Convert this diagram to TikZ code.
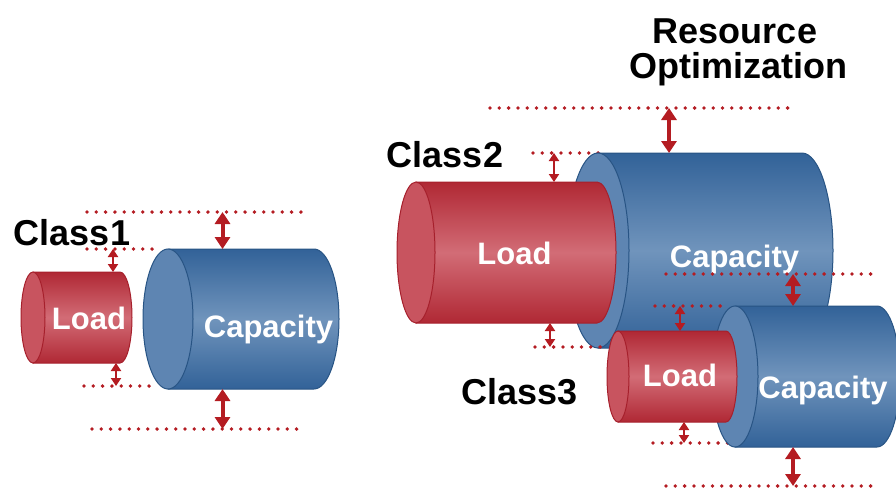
\documentclass[tikz,border=0pt]{standalone}
\usepackage{fontspec}
\setmainfont{Liberation Sans}
\usetikzlibrary{arrows.meta}

\definecolor{loadTop}{RGB}{176,40,52}
\definecolor{loadMid}{RGB}{210,108,118}
\definecolor{loadFace}{RGB}{200,84,95}
\definecolor{loadEdge}{RGB}{166,32,44}
\definecolor{capTop}{RGB}{50,98,152}
\definecolor{capMid}{RGB}{112,148,188}
\definecolor{capFace}{RGB}{94,133,178}
\definecolor{capEdge}{RGB}{40,84,132}
\definecolor{markRed}{RGB}{180,28,34}

% horizontal cylinder: #1 left-end centre x, #2 right-end centre x,
% #3 axis y, #4 end x radius, #5 end y radius, #6 colour set (load/cap)
\newcommand\hcylinder[6]{%
  \path[#6body] (#1,#3-#5) -- (#2,#3-#5)
    arc[start angle=-90,end angle=90,x radius=#4,y radius=#5]
    -- (#1,#3+#5) -- cycle;
  \path[#6face] (#1,#3) ellipse[x radius=#4,y radius=#5];
}

\tikzset{
  loadbody/.style={draw=loadEdge,line width=1pt,top color=loadTop,bottom color=loadTop,middle color=loadMid},
  loadface/.style={draw=loadEdge,line width=1pt,fill=loadFace},
  capbody/.style={draw=capEdge,line width=1pt,top color=capTop,bottom color=capTop,middle color=capMid},
  capface/.style={draw=capEdge,line width=1pt,fill=capFace},
  dotline/.style={draw=markRed,line width=3.8pt,line cap=round,dash pattern=on 0pt off 9.3pt},
  bigarrow/.style={draw=markRed,line width=4pt,
    arrows={Triangle[width=15pt,length=12pt]-Triangle[width=15pt,length=12pt]}},
  smallarrow/.style={draw=markRed,line width=2.8pt,
    arrows={Triangle[width=10pt,length=8pt]-Triangle[width=10pt,length=8pt]}},
  inlabel/.style={text=white,font=\fontsize{31}{31}\selectfont\bfseries,inner sep=0pt,anchor=base},
  classlabel/.style={text=black,font=\fontsize{36}{36}\selectfont\bfseries,inner sep=0pt,anchor=base},
}

\begin{document}
\begin{tikzpicture}[x=1pt,y=-1pt]
\useasboundingbox (0,0) rectangle (896,488);

% ---------- Class 1 ----------
\draw[dotline] (87,212) -- (305,212);
\draw[dotline] (87,249) -- (160,249);
\draw[dotline] (84,386) -- (158,386);
\draw[dotline] (92,429) -- (303,429);
\hcylinder{168}{314}{319}{25}{70}{cap}
\hcylinder{33}{120}{317.5}{12}{45.5}{load}
\node[inlabel] (load1) at (89,329) {Load};
\node[inlabel] (cap1) at (268.5,337) {Capacity};
\node[classlabel] (class1) at (72,245) {Class1};

\coordinate (c1top) at (222.5,212);
\coordinate (c1capt) at (222.5,249);
\coordinate (c1capb) at (222.5,389);
\coordinate (c1bot) at (222.5,429);
\coordinate (l1t) at (113,249);
\coordinate (l1tt) at (113,272);
\coordinate (l1b) at (116,363);
\coordinate (l1bb) at (116,386);
\draw[bigarrow] (c1top) -- (c1capt);
\draw[bigarrow] (c1capb) -- (c1bot);
\draw[smallarrow] (l1t) -- (l1tt);
\draw[smallarrow] (l1b) -- (l1bb);

% ---------- Class 2 ----------
\draw[dotline] (490,108) -- (788,108);
\draw[dotline] (533,153) -- (600,153);
\hcylinder{598}{802}{250.5}{31}{97.5}{cap}
\draw[dotline] (535,347) -- (605,347);
\hcylinder{416}{597}{252.5}{19}{70.5}{load}
\node[inlabel] (load2) at (514.5,264) {Load};
\node[inlabel] (cap2) at (734.5,267) {Capacity};
\node[classlabel] (class2) at (445,167) {Class2};
\draw[dotline] (666,274) -- (877,274);

\coordinate (c2top) at (669,108);
\coordinate (c2capt) at (669,153);
\coordinate (l2t) at (554,153);
\coordinate (l2tt) at (554,182);
\coordinate (l2b) at (550,323);
\coordinate (l2bb) at (550,347);
\draw[bigarrow] (c2top) -- (c2capt);
\draw[smallarrow] (l2t) -- (l2tt);
\draw[smallarrow] (l2b) -- (l2bb);

% ---------- Class 3 ----------
\draw[dotline] (655,306) -- (728,306);
\draw[dotline] (653,443) -- (728,443);
\draw[dotline] (666,486) -- (877,486);
\hcylinder{735}{877}{376.5}{23}{70.5}{cap}
\hcylinder{618}{726}{376.5}{11}{45.5}{load}
\node[inlabel] (load3) at (680,386) {Load};
\node[inlabel] (cap3) at (823,398) {Capacity};
\node[classlabel] (class3) at (519.5,404) {Class3};

\coordinate (c2bot) at (793,274);
\coordinate (c3capt) at (793,306);
\coordinate (c3capb) at (793,447);
\coordinate (c3bot) at (793,486);
\coordinate (l3t) at (680,306);
\coordinate (l3tt) at (680,331);
\coordinate (l3b) at (684,422);
\coordinate (l3bb) at (684,443);
\draw[bigarrow] (c2bot) -- (c3capt);
\draw[bigarrow] (c3capb) -- (c3bot);
\draw[smallarrow] (l3t) -- (l3tt);
\draw[smallarrow] (l3b) -- (l3bb);

% ---------- title ----------
\node[classlabel] (title1) at (735,43) {Resource};
\node[classlabel] (title2) at (738.5,78) {Optimization};
\end{tikzpicture}
\end{document}
